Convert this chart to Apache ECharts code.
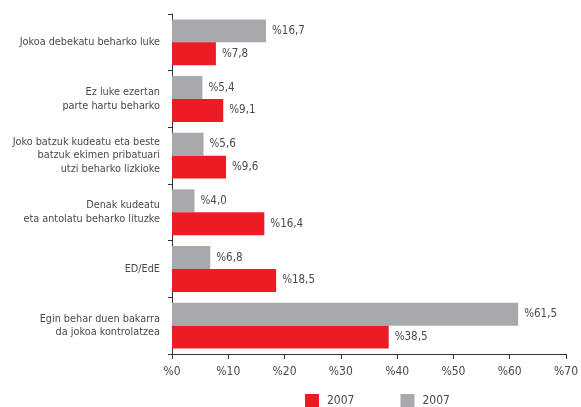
<!DOCTYPE html>
<html>
<head>
<meta charset="utf-8">
<script src="https://cdn.jsdelivr.net/npm/echarts@6/dist/echarts.min.js"></script>
<style>
  html, body { margin: 0; padding: 0; background: #fff; }
  #chart { width: 581px; height: 407px; }
</style>
</head>
<body>
<div id="chart"></div>
<script>
// Answer categories, top to bottom
const categories = [
  'Jokoa debekatu beharko luke',
  'Ez luke ezertan\nparte hartu beharko',
  'Joko batzuk kudeatu eta beste\nbatzuk ekimen pribatuari\nutzi beharko lizkioke',
  'Denak kudeatu\neta antolatu beharko lituzke',
  'ED/EdE',
  'Egin behar duen bakarra\nda jokoa kontrolatzea'
];
// Percentages per series
const redValues = [7.8, 9.1, 9.6, 16.4, 18.5, 38.5];
const grayValues = [16.7, 5.4, 5.6, 4.0, 6.8, 61.5];
// Axis ticks
const xTicks = [0, 10, 20, 30, 40, 50, 60, 70];
// Both series are labelled with the same year
const seriesLabels = ['2007', '2007'];

const FONT = '"DejaVu Sans Condensed", "Liberation Sans", sans-serif';
const TEXT = '#4a4a4a';
const RED = '#ED1C24';
const GRAY = '#A7A9AC';

const pct = v => '%' + v.toFixed(1).replace('.', ',');

const chart = echarts.init(document.getElementById('chart'), null, { renderer: 'canvas' });

// Legend keys must be unique, so the second name carries a trailing space that is trimmed on display
const redName = seriesLabels[0];
const grayName = seriesLabels[1] + ' ';

const valueLabel = {
  show: true, position: 'right', distance: 6,
  color: TEXT, fontSize: 11.5, fontFamily: FONT,
  formatter: p => pct(p.value)
};

chart.setOption({
  animation: false,
  textStyle: { fontFamily: FONT },
  grid: { left: 172, right: 15, top: 14, bottom: 53, containLabel: false, outerBoundsMode: 'none' },
  legend: {
    data: [redName, grayName],
    top: 394,
    left: 305,
    padding: 0,
    itemWidth: 14,
    itemHeight: 13,
    itemGap: 46,
    icon: 'rect',
    formatter: n => n.trim(),
    textStyle: { color: TEXT, fontSize: 12, fontFamily: FONT, padding: [0, 0, 0, 3] }
  },
  xAxis: {
    type: 'value',
    min: xTicks[0],
    max: xTicks[xTicks.length - 1],
    interval: 10,
    splitLine: { show: false },
    axisLine: { show: true, lineStyle: { color: '#333', width: 1 } },
    axisTick: { show: true, length: 5, lineStyle: { color: '#333' } },
    axisLabel: {
      color: TEXT, fontSize: 12, fontFamily: FONT, margin: 12,
      formatter: v => '%' + v
    }
  },
  yAxis: {
    type: 'category',
    inverse: true,
    data: categories,
    axisLine: { show: true, lineStyle: { color: '#333', width: 1 } },
    axisTick: { show: true, length: 4, lineStyle: { color: '#333' } },
    axisLabel: {
      color: TEXT, fontSize: 10.8, fontFamily: FONT, margin: 12,
      lineHeight: 13.5, align: 'right'
    }
  },
  series: [
    {
      name: grayName,
      type: 'bar',
      data: grayValues,
      itemStyle: { color: GRAY },
      barGap: '0%',
      barCategoryGap: '19%',
      label: valueLabel
    },
    {
      name: redName,
      type: 'bar',
      data: redValues,
      itemStyle: { color: RED },
      barGap: '0%',
      barCategoryGap: '19%',
      label: valueLabel
    }
  ]
});
</script>
</body>
</html>
